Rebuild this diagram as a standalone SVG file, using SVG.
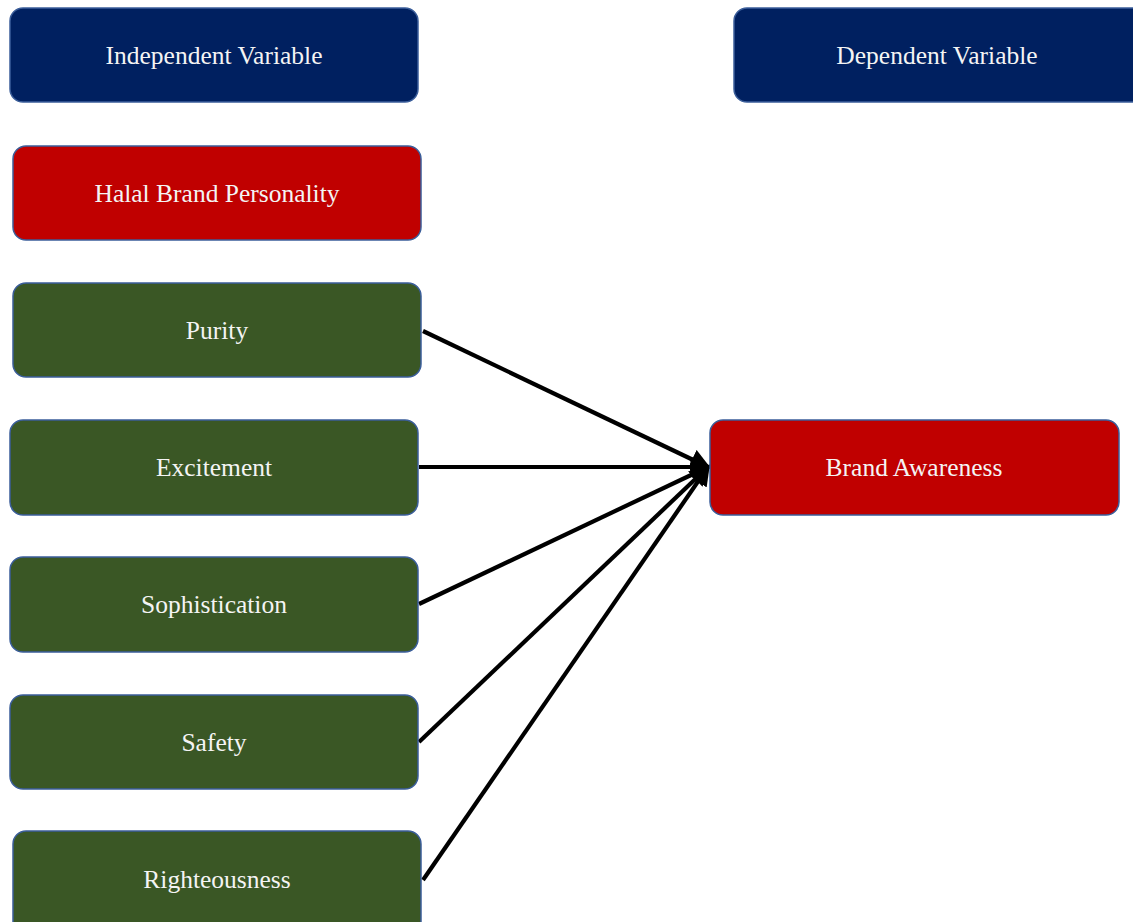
<svg xmlns="http://www.w3.org/2000/svg" width="1133" height="922" viewBox="0 0 1133 922">
<style>
.box{stroke:#3B5E9A;stroke-width:1.5}
.navy{fill:#002060}
.red{fill:#C00000}
.green{fill:#3A5725}
.lbl{font-family:"Liberation Serif","Times New Roman",serif;font-size:25.5px;fill:#F4F4F4;text-anchor:middle;dominant-baseline:central}
.conn{stroke:#000;stroke-width:4.2;fill:none}
</style>
<defs>
<marker id="arr" markerWidth="5" markerHeight="5" refX="4.2" refY="2.5" orient="auto" markerUnits="strokeWidth">
<path d="M0,0 L5,2.5 L0,5 Z" fill="#000"/>
</marker>
</defs>
<rect width="1133" height="922" fill="#fff"/>
<g id="connectors">
<line class="conn" x1="423" y1="331" x2="708" y2="467" marker-end="url(#arr)"/>
<line class="conn" x1="419" y1="467" x2="708" y2="467" marker-end="url(#arr)"/>
<line class="conn" x1="419" y1="604" x2="708" y2="467" marker-end="url(#arr)"/>
<line class="conn" x1="419" y1="742" x2="708" y2="467" marker-end="url(#arr)"/>
<line class="conn" x1="423" y1="880" x2="708" y2="467" marker-end="url(#arr)"/>
</g>
<g id="independent">
<rect class="box navy" x="10" y="8" width="408" height="94" rx="13"/>
<text class="lbl" x="214" y="55">Independent Variable</text>
</g>
<g id="dependent">
<rect class="box navy" x="734" y="8" width="414" height="94" rx="13"/>
<text class="lbl" x="937" y="55">Dependent Variable</text>
</g>
<g id="halal">
<rect class="box red" x="13" y="146" width="408" height="94" rx="13"/>
<text class="lbl" x="217" y="193">Halal Brand Personality</text>
</g>
<g id="purity">
<rect class="box green" x="13" y="283" width="408" height="94" rx="13"/>
<text class="lbl" x="217" y="330">Purity</text>
</g>
<g id="excitement">
<rect class="box green" x="10" y="420" width="408" height="95" rx="13"/>
<text class="lbl" x="214" y="467">Excitement</text>
</g>
<g id="sophistication">
<rect class="box green" x="10" y="557" width="408" height="95" rx="13"/>
<text class="lbl" x="214" y="604">Sophistication</text>
</g>
<g id="safety">
<rect class="box green" x="10" y="695" width="408" height="94" rx="13"/>
<text class="lbl" x="214" y="742">Safety</text>
</g>
<g id="righteousness">
<rect class="box green" x="13" y="831" width="408" height="105" rx="13"/>
<text class="lbl" x="217" y="879">Righteousness</text>
</g>
<g id="awareness">
<rect class="box red" x="710" y="420" width="409" height="95" rx="13"/>
<text class="lbl" x="914" y="467">Brand Awareness</text>
</g>
</svg>
